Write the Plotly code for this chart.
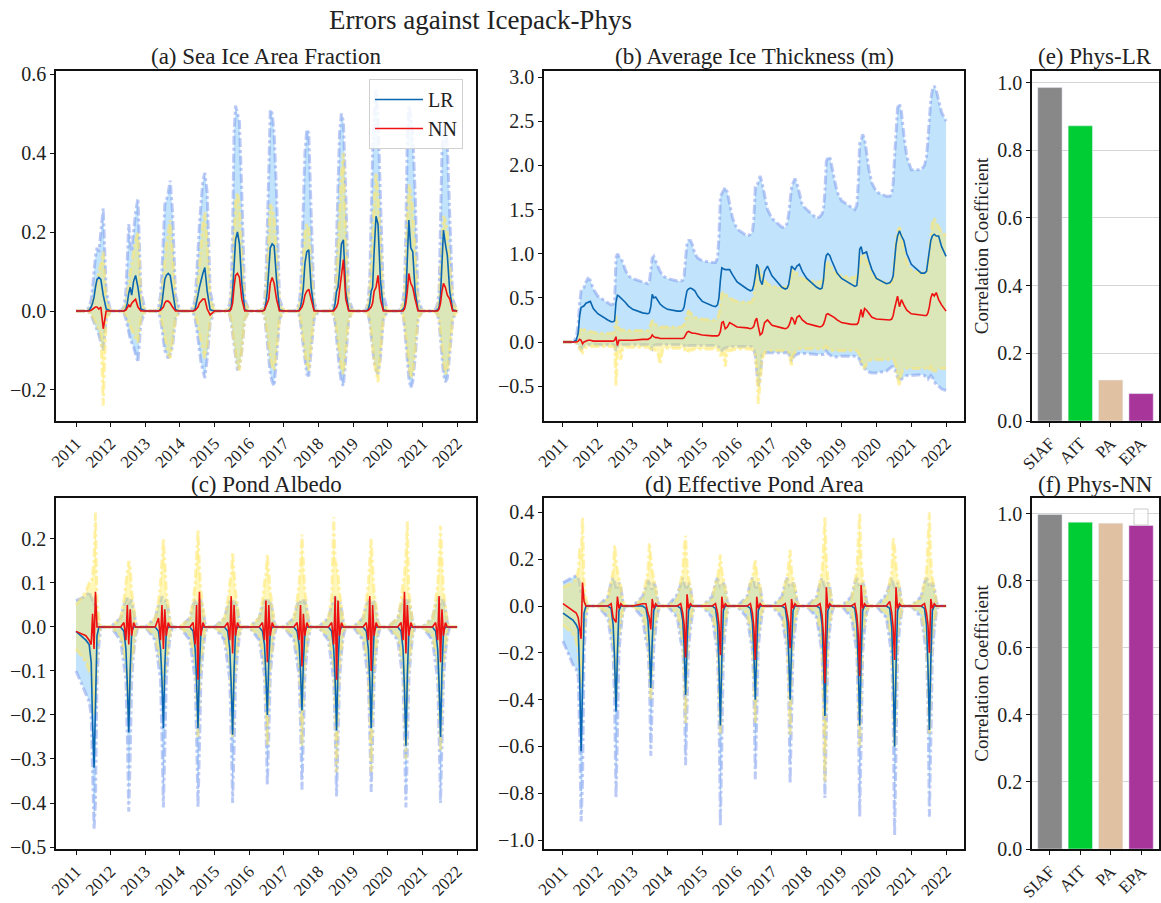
import plotly.graph_objects as go

W, H = 1161, 903
FONT = "Liberation Serif, DejaVu Serif, serif"

# ---------------- time grid ----------------
YEARS = list(range(2011, 2022))
SAMPLE_DAYS = ["01-01", "04-15", "05-20", "06-10", "06-25", "07-10",
               "07-25", "08-10", "08-30", "09-20", "10-15", "11-15"]
END_DATE = "2022-01-01"
DATES = [f"{y}-{d}" for y in YEARS for d in SAMPLE_DAYS] + [END_DATE]

# ---------------- (a) Sea Ice Area Fraction ----------------
A_LR = [
    [0, 0, 0.002, 0.01, 0.02, 0.035, 0.06, 0.08, 0.085, 0.08, 0.04, 0.005],
    [0, 0, 0, 0.005, 0.02, 0.045, 0.06, 0.04, 0.075, 0.09, 0.06, 0.005],
    [0, 0, 0, 0.005, 0.02, 0.05, 0.08, 0.09, 0.095, 0.09, 0.05, 0.003],
    [0, 0, 0, 0.005, 0.02, 0.04, 0.06, 0.08, 0.095, 0.11, 0.05, 0.003],
    [0, 0, 0, 0.003, 0.01, 0.05, 0.12, 0.18, 0.20, 0.17, 0.07, 0.003],
    [0, 0, 0, 0.003, 0.02, 0.05, 0.10, 0.16, 0.17, 0.165, 0.08, 0.003],
    [0, 0, 0, 0.002, 0.01, 0.03, 0.06, 0.12, 0.15, 0.155, 0.06, 0.002],
    [0, 0, 0, 0.003, 0.02, 0.05, 0.06, 0.10, 0.17, 0.18, 0.05, 0.002],
    [0, 0, 0, 0.005, 0.02, 0.05, 0.06, 0.15, 0.24, 0.22, 0.08, 0.003],
    [0, 0, 0, 0.005, 0.01, 0.04, 0.12, 0.23, 0.16, 0.15, 0.05, 0.002],
    [0, 0, 0, 0.003, 0.01, 0.04, 0.12, 0.205, 0.17, 0.14, 0.05, 0.003],
]
A_LR_END = 0
A_NN = [
    [0, 0, 0, 0.002, 0.005, 0.008, 0.01, 0.01, 0.005, 0.01, -0.045, 0],
    [0, 0, 0, 0.002, 0.01, 0.015, 0.01, 0.02, 0.025, 0.03, 0.01, 0],
    [0, 0, 0, 0.002, 0.005, 0.01, 0.02, 0.025, 0.025, 0.02, 0.01, 0],
    [0, 0, 0, 0.002, 0.005, 0.01, 0.02, 0.025, 0.03, 0.03, 0.005, -0.01],
    [0, 0, 0, 0, 0.005, 0.02, 0.06, 0.09, 0.095, 0.085, 0.03, 0],
    [0, 0, 0, 0.002, 0.01, 0.02, 0.03, 0.07, 0.085, 0.07, 0.03, 0],
    [0, 0, 0, 0, 0.005, 0.01, 0.02, 0.04, 0.05, 0.055, 0.03, 0],
    [0, 0, 0, 0, 0.005, 0.01, 0.02, 0.05, 0.09, 0.13, 0.03, 0],
    [0, 0, 0, 0.002, 0.005, 0.01, 0.02, 0.05, 0.06, 0.09, 0.03, 0],
    [0, 0, 0, 0, 0.005, 0.02, 0.05, 0.095, 0.07, 0.06, 0.03, 0],
    [0, 0, 0, 0, 0.005, 0.02, 0.05, 0.07, 0.06, 0.04, 0.03, 0],
]
A_NN_END = 0
A_LR_HI = [
    [0, 0, 0.01, 0.03, 0.06, 0.10, 0.14, 0.16, 0.15, 0.20, 0.26, 0.05],
    [0, 0, 0.01, 0.05, 0.12, 0.22, 0.18, 0.15, 0.20, 0.25, 0.285, 0.05],
    [0, 0, 0.01, 0.04, 0.10, 0.20, 0.27, 0.28, 0.30, 0.33, 0.25, 0.04],
    [0, 0, 0.01, 0.03, 0.08, 0.15, 0.22, 0.28, 0.33, 0.35, 0.30, 0.05],
    [0, 0, 0.005, 0.02, 0.06, 0.20, 0.45, 0.52, 0.50, 0.48, 0.30, 0.03],
    [0, 0, 0.005, 0.02, 0.08, 0.25, 0.35, 0.51, 0.50, 0.45, 0.30, 0.03],
    [0, 0, 0.005, 0.02, 0.05, 0.15, 0.30, 0.40, 0.46, 0.45, 0.25, 0.02],
    [0, 0, 0.005, 0.02, 0.05, 0.20, 0.30, 0.45, 0.50, 0.48, 0.30, 0.03],
    [0, 0, 0.005, 0.03, 0.08, 0.25, 0.40, 0.50, 0.56, 0.50, 0.30, 0.04],
    [0, 0, 0.005, 0.03, 0.06, 0.20, 0.45, 0.52, 0.50, 0.45, 0.30, 0.03],
    [0, 0, 0.005, 0.02, 0.05, 0.20, 0.40, 0.47, 0.46, 0.42, 0.25, 0.03],
]
A_LR_HI_END = 0
A_LR_LO = [
    [0, 0, -0.003, -0.01, -0.02, -0.03, -0.04, -0.05, -0.06, -0.08, -0.10, -0.02],
    [0, 0, -0.005, -0.02, -0.04, -0.06, -0.07, -0.08, -0.09, -0.11, -0.13, -0.03],
    [0, 0, -0.005, -0.02, -0.05, -0.08, -0.10, -0.11, -0.12, -0.11, -0.09, -0.02],
    [0, 0, -0.005, -0.02, -0.04, -0.07, -0.10, -0.13, -0.15, -0.17, -0.12, -0.03],
    [0, 0, -0.003, -0.01, -0.03, -0.06, -0.09, -0.12, -0.15, -0.14, -0.10, -0.02],
    [0, 0, -0.003, -0.01, -0.04, -0.08, -0.12, -0.16, -0.18, -0.19, -0.12, -0.02],
    [0, 0, -0.003, -0.01, -0.03, -0.06, -0.09, -0.13, -0.16, -0.165, -0.10, -0.02],
    [0, 0, -0.003, -0.01, -0.03, -0.07, -0.11, -0.15, -0.18, -0.19, -0.12, -0.02],
    [0, 0, -0.003, -0.01, -0.03, -0.06, -0.10, -0.13, -0.15, -0.16, -0.12, -0.02],
    [0, 0, -0.003, -0.01, -0.04, -0.08, -0.13, -0.17, -0.195, -0.18, -0.12, -0.02],
    [0, 0, -0.003, -0.01, -0.03, -0.07, -0.12, -0.16, -0.18, -0.17, -0.11, -0.02],
]
A_LR_LO_END = 0
A_NN_HI = [
    [0, 0, 0.005, 0.01, 0.02, 0.04, 0.06, 0.08, 0.10, 0.12, 0.15, 0.03],
    [0, 0, 0.005, 0.02, 0.05, 0.08, 0.10, 0.12, 0.15, 0.18, 0.20, 0.03],
    [0, 0, 0.005, 0.02, 0.05, 0.09, 0.13, 0.17, 0.20, 0.23, 0.15, 0.02],
    [0, 0, 0.005, 0.02, 0.04, 0.08, 0.12, 0.17, 0.22, 0.25, 0.18, 0.03],
    [0, 0, 0.003, 0.01, 0.04, 0.10, 0.20, 0.28, 0.30, 0.27, 0.15, 0.02],
    [0, 0, 0.003, 0.01, 0.05, 0.12, 0.20, 0.27, 0.26, 0.24, 0.15, 0.02],
    [0, 0, 0.003, 0.01, 0.03, 0.08, 0.14, 0.20, 0.22, 0.21, 0.12, 0.01],
    [0, 0, 0.003, 0.01, 0.03, 0.10, 0.18, 0.28, 0.35, 0.40, 0.18, 0.02],
    [0, 0, 0.003, 0.02, 0.05, 0.12, 0.20, 0.28, 0.35, 0.30, 0.18, 0.02],
    [0, 0, 0.003, 0.02, 0.04, 0.12, 0.25, 0.32, 0.30, 0.26, 0.15, 0.02],
    [0, 0, 0.003, 0.01, 0.03, 0.10, 0.18, 0.24, 0.23, 0.20, 0.12, 0.02],
]
A_NN_HI_END = 0
A_NN_LO = [
    [0, 0, -0.003, -0.01, -0.015, -0.02, -0.03, -0.04, -0.05, -0.06, -0.24, -0.02],
    [0, 0, -0.003, -0.01, -0.02, -0.03, -0.04, -0.05, -0.06, -0.07, -0.08, -0.02],
    [0, 0, -0.003, -0.01, -0.03, -0.05, -0.07, -0.09, -0.11, -0.12, -0.08, -0.02],
    [0, 0, -0.003, -0.01, -0.02, -0.04, -0.06, -0.08, -0.10, -0.12, -0.09, -0.02],
    [0, 0, -0.003, -0.01, -0.02, -0.05, -0.08, -0.11, -0.14, -0.15, -0.10, -0.02],
    [0, 0, -0.003, -0.01, -0.03, -0.06, -0.09, -0.12, -0.14, -0.15, -0.10, -0.02],
    [0, 0, -0.003, -0.01, -0.02, -0.05, -0.08, -0.11, -0.14, -0.15, -0.09, -0.01],
    [0, 0, -0.003, -0.01, -0.02, -0.05, -0.09, -0.12, -0.15, -0.16, -0.10, -0.02],
    [0, 0, -0.003, -0.01, -0.02, -0.05, -0.09, -0.13, -0.16, -0.18, -0.11, -0.02],
    [0, 0, -0.003, -0.01, -0.03, -0.06, -0.10, -0.14, -0.17, -0.16, -0.10, -0.02],
    [0, 0, -0.003, -0.01, -0.02, -0.05, -0.09, -0.13, -0.16, -0.15, -0.10, -0.02],
]
A_NN_LO_END = 0

# ---------------- (b) Average Ice Thickness ----------------
B_LR = [
    [0, 0.0, 0.02, 0.10, 0.30, 0.39, 0.40, 0.41, 0.44, 0.45, 0.46, 0.38],
    [0.32, 0.25, 0.23, 0.23, 0.24, 0.45, 0.53, 0.52, 0.50, 0.48, 0.45, 0.41],
    [0.37, 0.33, 0.32, 0.32, 0.33, 0.40, 0.54, 0.50, 0.51, 0.47, 0.43, 0.40],
    [0.37, 0.35, 0.35, 0.36, 0.40, 0.50, 0.58, 0.60, 0.61, 0.60, 0.58, 0.52],
    [0.46, 0.41, 0.40, 0.42, 0.50, 0.70, 0.84, 0.83, 0.82, 0.82, 0.82, 0.76],
    [0.68, 0.60, 0.58, 0.59, 0.65, 0.75, 0.88, 0.85, 0.70, 0.65, 0.80, 0.86],
    [0.75, 0.62, 0.60, 0.61, 0.65, 0.75, 0.86, 0.84, 0.82, 0.86, 0.88, 0.80],
    [0.72, 0.62, 0.60, 0.61, 0.70, 0.90, 0.98, 1.00, 0.98, 0.92, 0.85, 0.78],
    [0.72, 0.65, 0.63, 0.64, 0.80, 1.05, 1.08, 1.00, 1.01, 1.02, 0.92, 0.82],
    [0.72, 0.66, 0.67, 0.70, 0.75, 0.95, 1.10, 1.20, 1.26, 1.20, 1.15, 1.00],
    [0.88, 0.78, 0.78, 0.80, 0.90, 1.05, 1.15, 1.20, 1.22, 1.20, 1.20, 1.08],
]
B_LR_END = 0.97
B_NN = [
    [0, 0, 0.0, 0.01, 0.03, 0.02, -0.02, 0.0, 0.01, 0.02, 0.02, 0.01],
    [0.01, 0.01, 0.01, 0.01, 0.02, 0.06, -0.04, 0.02, 0.02, 0.02, 0.02, 0.02],
    [0.02, 0.03, 0.03, 0.03, 0.04, 0.05, 0.08, 0.06, 0.05, 0.05, 0.04, 0.04],
    [0.04, 0.04, 0.04, 0.04, 0.05, 0.08, 0.11, 0.12, 0.11, 0.10, 0.10, 0.09],
    [0.08, 0.07, 0.07, 0.07, 0.08, 0.12, 0.22, 0.23, 0.15, 0.17, 0.22, 0.20],
    [0.17, 0.16, 0.15, 0.16, 0.18, 0.24, 0.27, 0.18, 0.08, 0.10, 0.22, 0.25],
    [0.19, 0.16, 0.15, 0.16, 0.18, 0.22, 0.28, 0.26, 0.20, 0.28, 0.30, 0.25],
    [0.21, 0.18, 0.17, 0.18, 0.20, 0.25, 0.31, 0.32, 0.31, 0.30, 0.28, 0.25],
    [0.22, 0.20, 0.20, 0.20, 0.22, 0.30, 0.37, 0.28, 0.38, 0.36, 0.32, 0.28],
    [0.26, 0.25, 0.25, 0.26, 0.30, 0.38, 0.45, 0.52, 0.40, 0.48, 0.42, 0.36],
    [0.32, 0.30, 0.30, 0.30, 0.33, 0.40, 0.50, 0.55, 0.52, 0.56, 0.48, 0.42],
]
B_NN_END = 0.35
B_LR_HI = [
    [0, 0.0, 0.05, 0.20, 0.45, 0.58, 0.60, 0.62, 0.68, 0.72, 0.70, 0.60],
    [0.52, 0.45, 0.42, 0.43, 0.45, 0.95, 1.00, 0.97, 0.95, 0.90, 0.82, 0.75],
    [0.72, 0.68, 0.67, 0.66, 0.68, 0.80, 0.95, 0.97, 0.92, 0.85, 0.80, 0.75],
    [0.72, 0.69, 0.69, 0.70, 0.75, 0.95, 1.12, 1.15, 1.15, 1.10, 1.00, 0.95],
    [0.92, 0.90, 0.90, 0.95, 1.20, 1.65, 1.68, 1.72, 1.75, 1.70, 1.55, 1.40],
    [1.28, 1.20, 1.22, 1.25, 1.40, 1.75, 1.76, 1.82, 1.88, 1.80, 1.65, 1.50],
    [1.40, 1.30, 1.30, 1.35, 1.45, 1.60, 1.75, 1.80, 1.85, 1.80, 1.70, 1.55],
    [1.50, 1.40, 1.42, 1.45, 1.50, 1.70, 2.05, 2.08, 2.10, 2.00, 1.85, 1.70],
    [1.60, 1.52, 1.50, 1.55, 1.80, 2.25, 2.28, 2.35, 2.30, 2.15, 1.95, 1.80],
    [1.70, 1.65, 1.65, 1.68, 1.80, 2.10, 2.40, 2.65, 2.70, 2.60, 2.35, 2.10],
    [1.95, 1.95, 2.00, 2.10, 2.30, 2.55, 2.75, 2.85, 2.90, 2.85, 2.75, 2.60],
]
B_LR_HI_END = 2.5
B_LR_LO = [
    [0, 0, -0.01, -0.03, -0.06, -0.08, -0.05, -0.04, -0.03, -0.03, -0.03, -0.03],
    [-0.03, -0.03, -0.03, -0.03, -0.04, -0.10, -0.06, -0.03, -0.03, -0.03, -0.03, -0.03],
    [-0.03, -0.03, -0.03, -0.03, -0.04, -0.06, -0.08, -0.04, -0.03, -0.03, -0.03, -0.03],
    [-0.03, -0.03, -0.03, -0.03, -0.04, -0.05, -0.06, -0.04, -0.04, -0.04, -0.04, -0.04],
    [-0.04, -0.04, -0.04, -0.05, -0.06, -0.10, -0.10, -0.08, -0.07, -0.06, -0.06, -0.05],
    [-0.05, -0.05, -0.05, -0.06, -0.08, -0.15, -0.30, -0.50, -0.40, -0.15, -0.12, -0.12],
    [-0.12, -0.12, -0.12, -0.12, -0.13, -0.18, -0.22, -0.18, -0.15, -0.14, -0.13, -0.13],
    [-0.13, -0.14, -0.14, -0.14, -0.14, -0.12, -0.10, -0.13, -0.15, -0.16, -0.17, -0.17],
    [-0.16, -0.16, -0.16, -0.16, -0.18, -0.20, -0.25, -0.28, -0.30, -0.32, -0.34, -0.35],
    [-0.35, -0.33, -0.30, -0.28, -0.28, -0.30, -0.35, -0.40, -0.42, -0.42, -0.40, -0.38],
    [-0.38, -0.37, -0.38, -0.40, -0.42, -0.40, -0.38, -0.40, -0.45, -0.48, -0.50, -0.53],
]
B_LR_LO_END = -0.55
B_NN_HI = [
    [0, 0, 0.01, 0.05, 0.12, 0.16, 0.15, 0.14, 0.13, 0.12, 0.12, 0.11],
    [0.10, 0.10, 0.10, 0.10, 0.12, 0.30, 0.20, 0.15, 0.14, 0.14, 0.13, 0.13],
    [0.13, 0.13, 0.13, 0.13, 0.15, 0.20, 0.25, 0.22, 0.20, 0.18, 0.17, 0.17],
    [0.17, 0.17, 0.17, 0.18, 0.20, 0.25, 0.32, 0.35, 0.33, 0.30, 0.28, 0.27],
    [0.26, 0.25, 0.25, 0.27, 0.32, 0.45, 0.55, 0.56, 0.55, 0.52, 0.50, 0.48],
    [0.46, 0.45, 0.45, 0.47, 0.52, 0.70, 0.82, 0.85, 0.80, 0.75, 0.70, 0.66],
    [0.63, 0.62, 0.62, 0.63, 0.66, 0.72, 0.80, 0.82, 0.80, 0.78, 0.74, 0.72],
    [0.70, 0.68, 0.68, 0.69, 0.72, 0.80, 0.88, 0.90, 0.88, 0.84, 0.80, 0.77],
    [0.75, 0.73, 0.73, 0.75, 0.80, 0.90, 0.98, 1.00, 0.98, 0.92, 0.85, 0.78],
    [0.72, 0.68, 0.66, 0.68, 0.75, 0.95, 1.15, 1.25, 1.30, 1.20, 1.05, 0.90],
    [0.82, 0.78, 0.78, 0.80, 0.90, 1.05, 1.25, 1.35, 1.40, 1.35, 1.30, 1.25],
]
B_NN_HI_END = 1.2
B_NN_LO = [
    [0, 0, -0.01, -0.03, -0.08, -0.10, -0.12, -0.08, -0.06, -0.05, -0.05, -0.05],
    [-0.05, -0.05, -0.05, -0.05, -0.06, -0.50, -0.15, -0.08, -0.20, -0.08, -0.06, -0.06],
    [-0.06, -0.06, -0.06, -0.06, -0.07, -0.08, -0.10, -0.08, -0.10, -0.12, -0.25, -0.07],
    [-0.07, -0.07, -0.07, -0.07, -0.08, -0.10, -0.12, -0.10, -0.09, -0.09, -0.08, -0.08],
    [-0.08, -0.08, -0.08, -0.09, -0.10, -0.15, -0.15, -0.12, -0.28, -0.10, -0.10, -0.09],
    [-0.08, -0.08, -0.08, -0.09, -0.10, -0.15, -0.30, -0.70, -0.45, -0.20, -0.12, -0.10],
    [-0.10, -0.10, -0.10, -0.10, -0.12, -0.18, -0.28, -0.15, -0.12, -0.10, -0.08, -0.08],
    [-0.08, -0.08, -0.08, -0.08, -0.08, -0.06, -0.05, -0.08, -0.10, -0.10, -0.10, -0.10],
    [-0.10, -0.10, -0.10, -0.10, -0.12, -0.15, -0.22, -0.25, -0.30, -0.25, -0.22, -0.20],
    [-0.20, -0.20, -0.20, -0.20, -0.20, -0.22, -0.28, -0.40, -0.50, -0.35, -0.30, -0.30],
    [-0.30, -0.30, -0.30, -0.30, -0.32, -0.30, -0.28, -0.32, -0.35, -0.32, -0.30, -0.30],
]
B_NN_LO_END = -0.3

# ---------------- (c) Pond Albedo ----------------
C_LR = [
    [-0.01, -0.03, -0.04, -0.08, -0.22, -0.32, -0.18, -0.02, 0, 0, 0, 0],
    [0, 0, -0.01, -0.05, -0.13, -0.24, -0.10, -0.01, 0, 0, 0, 0],
    [0, 0, -0.01, -0.05, -0.12, -0.23, -0.09, -0.01, 0, 0, 0, 0],
    [0, 0, -0.01, -0.05, -0.12, -0.23, -0.09, -0.01, 0, 0, 0, 0],
    [0, 0, -0.01, -0.05, -0.13, -0.245, -0.10, -0.01, 0, 0, 0, 0],
    [0, 0, -0.01, -0.04, -0.11, -0.20, -0.08, -0.01, 0, 0, 0, 0],
    [0, 0, -0.01, -0.04, -0.10, -0.19, -0.08, -0.01, 0, 0, 0, 0],
    [0, 0, -0.01, -0.05, -0.12, -0.235, -0.09, -0.01, 0, 0, 0, 0],
    [0, 0, -0.01, -0.05, -0.12, -0.23, -0.09, -0.01, 0, 0, 0, 0],
    [0, 0, -0.01, -0.05, -0.14, -0.27, -0.11, -0.01, 0, 0, 0, 0],
    [0, 0, -0.01, -0.05, -0.13, -0.25, -0.10, -0.01, 0, 0, 0, 0],
]
C_LR_END = 0
C_NN = [
    [-0.01, -0.02, -0.03, -0.04, 0.03, -0.05, 0.08, 0.0, 0, 0, 0, 0],
    [0, 0, 0.01, -0.03, 0.05, -0.04, 0.04, -0.02, 0.01, 0, 0, 0],
    [0, 0, 0.02, -0.03, 0.05, -0.05, 0.04, -0.02, 0.01, 0, 0, 0],
    [0, 0, 0.01, -0.04, 0.05, -0.12, 0.08, -0.02, 0.01, 0, 0, 0],
    [0, 0, 0.01, -0.03, 0.07, -0.06, 0.05, -0.02, 0.01, 0, 0, 0],
    [0, 0, 0.01, -0.03, 0.06, -0.08, 0.05, -0.02, 0.01, 0, 0, 0],
    [0, 0, 0.01, -0.03, 0.05, -0.09, 0.03, -0.02, 0.01, 0, 0, 0],
    [0, 0, 0.01, -0.04, 0.07, -0.12, 0.06, -0.02, 0.01, 0, 0, 0],
    [0, 0, 0.01, -0.03, 0.07, -0.10, 0.05, -0.02, 0.01, 0, 0, 0],
    [0, 0, 0.01, -0.03, 0.08, -0.06, 0.05, -0.02, 0.01, 0, 0, 0],
    [0, 0, 0.01, -0.03, 0.07, -0.08, 0.04, -0.02, 0.01, 0, 0, 0],
]
C_NN_END = 0
C_LR_HI = [
    [0.06, 0.07, 0.08, 0.07, 0.06, 0.05, 0.07, 0.03, 0, 0, 0, 0],
    [0, 0.02, 0.05, 0.06, 0.07, 0.05, 0.06, 0.06, 0.04, 0.01, 0, 0],
    [0, 0.02, 0.05, 0.06, 0.07, 0.06, 0.06, 0.06, 0.04, 0.01, 0, 0],
    [0, 0.02, 0.05, 0.06, 0.06, 0.05, 0.06, 0.06, 0.04, 0.01, 0, 0],
    [0, 0.02, 0.05, 0.06, 0.06, 0.06, 0.05, 0.06, 0.04, 0.01, 0, 0],
    [0, 0.02, 0.05, 0.06, 0.06, 0.05, 0.06, 0.06, 0.04, 0.01, 0, 0],
    [0, 0.02, 0.05, 0.06, 0.06, 0.05, 0.06, 0.06, 0.04, 0.01, 0, 0],
    [0, 0.02, 0.05, 0.06, 0.07, 0.06, 0.06, 0.06, 0.04, 0.01, 0, 0],
    [0, 0.02, 0.05, 0.06, 0.06, 0.05, 0.06, 0.06, 0.04, 0.01, 0, 0],
    [0, 0.02, 0.05, 0.06, 0.06, 0.05, 0.06, 0.06, 0.04, 0.01, 0, 0],
    [0, 0.02, 0.05, 0.06, 0.07, 0.05, 0.06, 0.06, 0.04, 0.01, 0, 0],
]
C_LR_HI_END = 0
C_LR_LO = [
    [-0.10, -0.15, -0.17, -0.20, -0.35, -0.46, -0.40, -0.12, -0.04, 0, 0, 0],
    [0, -0.03, -0.08, -0.12, -0.25, -0.42, -0.30, -0.12, -0.06, -0.02, 0, 0],
    [0, -0.03, -0.08, -0.12, -0.25, -0.41, -0.28, -0.12, -0.06, -0.02, 0, 0],
    [0, -0.03, -0.08, -0.12, -0.25, -0.41, -0.28, -0.12, -0.06, -0.02, 0, 0],
    [0, -0.03, -0.08, -0.12, -0.25, -0.40, -0.28, -0.12, -0.06, -0.02, 0, 0],
    [0, -0.03, -0.08, -0.11, -0.22, -0.36, -0.25, -0.11, -0.06, -0.02, 0, 0],
    [0, -0.03, -0.08, -0.11, -0.22, -0.37, -0.25, -0.11, -0.06, -0.02, 0, 0],
    [0, -0.03, -0.08, -0.12, -0.24, -0.385, -0.26, -0.12, -0.06, -0.02, 0, 0],
    [0, -0.03, -0.08, -0.12, -0.24, -0.375, -0.26, -0.12, -0.06, -0.02, 0, 0],
    [0, -0.03, -0.08, -0.12, -0.26, -0.41, -0.28, -0.12, -0.06, -0.02, 0, 0],
    [0, -0.03, -0.08, -0.12, -0.25, -0.40, -0.27, -0.12, -0.06, -0.02, 0, 0],
]
C_LR_LO_END = 0
C_NN_HI = [
    [0.05, 0.08, 0.10, 0.10, 0.12, 0.15, 0.26, 0.06, 0.02, 0, 0, 0],
    [0, 0.02, 0.06, 0.10, 0.12, 0.15, 0.14, 0.08, 0.05, 0.01, 0, 0],
    [0, 0.02, 0.06, 0.10, 0.14, 0.20, 0.15, 0.08, 0.05, 0.01, 0, 0],
    [0, 0.02, 0.06, 0.10, 0.15, 0.22, 0.14, 0.08, 0.05, 0.01, 0, 0],
    [0, 0.02, 0.06, 0.10, 0.12, 0.17, 0.13, 0.08, 0.05, 0.01, 0, 0],
    [0, 0.02, 0.06, 0.10, 0.12, 0.165, 0.12, 0.08, 0.05, 0.01, 0, 0],
    [0, 0.02, 0.06, 0.10, 0.14, 0.21, 0.14, 0.08, 0.05, 0.01, 0, 0],
    [0, 0.02, 0.07, 0.25, 0.15, 0.14, 0.12, 0.08, 0.05, 0.01, 0, 0],
    [0, 0.02, 0.06, 0.10, 0.14, 0.20, 0.14, 0.08, 0.05, 0.01, 0, 0],
    [0, 0.02, 0.06, 0.10, 0.12, 0.16, 0.24, 0.08, 0.05, 0.01, 0, 0],
    [0, 0.02, 0.06, 0.10, 0.15, 0.23, 0.14, 0.08, 0.05, 0.01, 0, 0],
]
C_NN_HI_END = 0
C_NN_LO = [
    [-0.05, -0.08, -0.10, -0.10, -0.15, -0.20, -0.15, -0.07, -0.02, 0, 0, 0],
    [0, -0.02, -0.06, -0.08, -0.12, -0.20, -0.12, -0.08, -0.05, -0.01, 0, 0],
    [0, -0.02, -0.06, -0.08, -0.10, -0.15, -0.10, -0.07, -0.05, -0.01, 0, 0],
    [0, -0.02, -0.06, -0.08, -0.14, -0.25, -0.14, -0.08, -0.05, -0.01, 0, 0],
    [0, -0.02, -0.06, -0.08, -0.14, -0.25, -0.14, -0.08, -0.05, -0.01, 0, 0],
    [0, -0.02, -0.06, -0.08, -0.15, -0.27, -0.15, -0.08, -0.05, -0.01, 0, 0],
    [0, -0.02, -0.06, -0.08, -0.15, -0.27, -0.15, -0.08, -0.05, -0.01, 0, 0],
    [0, -0.02, -0.06, -0.09, -0.18, -0.33, -0.18, -0.09, -0.05, -0.01, 0, 0],
    [0, -0.02, -0.06, -0.09, -0.18, -0.33, -0.18, -0.09, -0.05, -0.01, 0, 0],
    [0, -0.02, -0.06, -0.09, -0.16, -0.30, -0.16, -0.09, -0.05, -0.01, 0, 0],
    [0, -0.02, -0.06, -0.08, -0.15, -0.28, -0.15, -0.08, -0.05, -0.01, 0, 0],
]
C_NN_LO_END = 0

# ---------------- (d) Effective Pond Area ----------------
D_LR = [
    [-0.03, -0.06, -0.08, -0.10, -0.30, -0.62, -0.35, -0.03, 0, 0, 0, 0],
    [0, 0, -0.01, -0.08, -0.22, -0.45, -0.20, -0.02, 0, 0, 0, 0],
    [0, 0, -0.01, -0.06, -0.17, -0.35, -0.15, -0.02, 0, 0, 0, 0],
    [0, 0, -0.01, -0.06, -0.18, -0.38, -0.16, -0.02, 0, 0, 0, 0],
    [0, 0, -0.01, -0.08, -0.25, -0.51, -0.22, -0.02, 0, 0, 0, 0],
    [0, 0, -0.01, -0.07, -0.20, -0.40, -0.18, -0.02, 0, 0, 0, 0],
    [0, 0, -0.01, -0.07, -0.20, -0.40, -0.18, -0.02, 0, 0, 0, 0],
    [0, 0, -0.01, -0.08, -0.23, -0.47, -0.20, -0.02, 0, 0, 0, 0],
    [0, 0, -0.01, -0.08, -0.25, -0.51, -0.22, -0.02, 0, 0, 0, 0],
    [0, 0, -0.01, -0.09, -0.30, -0.60, -0.26, -0.02, 0, 0, 0, 0],
    [0, 0, -0.01, -0.08, -0.26, -0.53, -0.23, -0.02, 0, 0, 0, 0],
]
D_LR_END = 0
D_NN = [
    [0.01, -0.02, -0.03, -0.05, -0.10, -0.14, 0.10, 0.02, 0, 0, 0, 0],
    [0, 0, 0.01, -0.05, -0.06, -0.07, 0.04, -0.01, 0.01, 0, 0, 0],
    [0, 0.01, 0.01, -0.03, -0.05, -0.10, 0.03, -0.01, 0.01, 0, 0, 0],
    [0, 0, 0.01, -0.03, -0.08, -0.22, 0.05, -0.01, 0.01, 0, 0, 0],
    [0, 0, 0.01, -0.03, -0.08, -0.21, 0.04, -0.01, 0.01, 0, 0, 0],
    [0, 0, 0.01, -0.03, -0.09, -0.23, 0.04, -0.01, 0.01, 0, 0, 0],
    [0, 0, 0.01, -0.03, -0.07, -0.18, 0.03, -0.01, 0.01, 0, 0, 0],
    [0, 0, 0.01, -0.04, -0.12, -0.33, 0.08, -0.01, 0.01, 0, 0, 0],
    [0, 0, 0.01, -0.04, -0.12, -0.30, 0.09, -0.01, 0.01, 0, 0, 0],
    [0, 0, 0.02, -0.03, -0.09, -0.23, 0.08, -0.01, 0.01, 0, 0, 0],
    [0, 0, 0.01, -0.03, -0.08, -0.20, 0.03, -0.01, 0.01, 0, 0, 0],
]
D_NN_END = 0
D_LR_HI = [
    [0.10, 0.12, 0.13, 0.12, 0.10, 0.05, 0.08, 0.04, 0.01, 0, 0, 0],
    [0, 0.04, 0.10, 0.12, 0.11, 0.08, 0.08, 0.10, 0.08, 0.02, 0, 0],
    [0, 0.04, 0.09, 0.11, 0.10, 0.08, 0.07, 0.10, 0.08, 0.02, 0, 0],
    [0, 0.05, 0.10, 0.12, 0.10, 0.08, 0.08, 0.10, 0.08, 0.02, 0, 0],
    [0, 0.04, 0.10, 0.12, 0.10, 0.08, 0.08, 0.10, 0.08, 0.02, 0, 0],
    [0, 0.04, 0.10, 0.12, 0.11, 0.08, 0.08, 0.10, 0.08, 0.02, 0, 0],
    [0, 0.04, 0.10, 0.12, 0.10, 0.08, 0.08, 0.10, 0.08, 0.02, 0, 0],
    [0, 0.04, 0.10, 0.12, 0.10, 0.08, 0.08, 0.10, 0.08, 0.02, 0, 0],
    [0, 0.04, 0.10, 0.12, 0.10, 0.08, 0.08, 0.10, 0.08, 0.02, 0, 0],
    [0, 0.05, 0.10, 0.12, 0.10, 0.08, 0.08, 0.10, 0.08, 0.02, 0, 0],
    [0, 0.04, 0.10, 0.12, 0.11, 0.08, 0.08, 0.10, 0.08, 0.02, 0, 0],
]
D_LR_HI_END = 0
D_LR_LO = [
    [-0.15, -0.25, -0.27, -0.30, -0.55, -0.92, -0.75, -0.20, -0.05, 0, 0, 0],
    [0, -0.05, -0.15, -0.20, -0.40, -0.82, -0.55, -0.20, -0.10, -0.03, 0, 0],
    [0, -0.05, -0.15, -0.18, -0.30, -0.64, -0.40, -0.18, -0.10, -0.03, 0, 0],
    [0, -0.05, -0.15, -0.18, -0.32, -0.68, -0.42, -0.18, -0.10, -0.03, 0, 0],
    [0, -0.05, -0.15, -0.20, -0.45, -0.94, -0.60, -0.20, -0.10, -0.03, 0, 0],
    [0, -0.05, -0.15, -0.19, -0.35, -0.74, -0.48, -0.18, -0.10, -0.03, 0, 0],
    [0, -0.05, -0.15, -0.19, -0.36, -0.76, -0.48, -0.18, -0.10, -0.03, 0, 0],
    [0, -0.05, -0.15, -0.20, -0.40, -0.82, -0.52, -0.19, -0.10, -0.03, 0, 0],
    [0, -0.05, -0.15, -0.20, -0.43, -0.90, -0.58, -0.20, -0.10, -0.03, 0, 0],
    [0, -0.05, -0.15, -0.21, -0.46, -0.98, -0.62, -0.20, -0.10, -0.03, 0, 0],
    [0, -0.05, -0.15, -0.20, -0.43, -0.90, -0.58, -0.20, -0.10, -0.03, 0, 0],
]
D_LR_LO_END = 0
D_NN_HI = [
    [0.08, 0.10, 0.12, 0.15, 0.25, 0.20, 0.38, 0.10, 0.03, 0, 0, 0],
    [0, 0.03, 0.10, 0.15, 0.26, 0.20, 0.15, 0.12, 0.08, 0.02, 0, 0],
    [0, 0.03, 0.10, 0.15, 0.27, 0.20, 0.15, 0.12, 0.08, 0.02, 0, 0],
    [0, 0.03, 0.10, 0.15, 0.25, 0.30, 0.18, 0.12, 0.08, 0.02, 0, 0],
    [0, 0.03, 0.10, 0.12, 0.18, 0.22, 0.15, 0.12, 0.08, 0.02, 0, 0],
    [0, 0.03, 0.10, 0.12, 0.17, 0.20, 0.14, 0.12, 0.08, 0.02, 0, 0],
    [0, 0.03, 0.10, 0.12, 0.20, 0.24, 0.15, 0.12, 0.08, 0.02, 0, 0],
    [0, 0.03, 0.10, 0.15, 0.25, 0.38, 0.20, 0.12, 0.08, 0.02, 0, 0],
    [0, 0.03, 0.10, 0.15, 0.28, 0.40, 0.20, 0.12, 0.08, 0.02, 0, 0],
    [0, 0.03, 0.10, 0.15, 0.29, 0.25, 0.18, 0.12, 0.08, 0.02, 0, 0],
    [0, 0.03, 0.10, 0.15, 0.28, 0.40, 0.20, 0.12, 0.08, 0.02, 0, 0],
]
D_NN_HI_END = 0
D_NN_LO = [
    [-0.08, -0.12, -0.15, -0.20, -0.28, -0.35, -0.20, -0.10, -0.03, 0, 0, 0],
    [0, -0.03, -0.10, -0.15, -0.22, -0.40, -0.22, -0.12, -0.07, -0.02, 0, 0],
    [0, -0.03, -0.10, -0.15, -0.22, -0.40, -0.20, -0.12, -0.07, -0.02, 0, 0],
    [0, -0.03, -0.10, -0.15, -0.28, -0.50, -0.25, -0.12, -0.07, -0.02, 0, 0],
    [0, -0.03, -0.10, -0.15, -0.30, -0.55, -0.28, -0.12, -0.07, -0.02, 0, 0],
    [0, -0.03, -0.10, -0.15, -0.28, -0.50, -0.25, -0.12, -0.07, -0.02, 0, 0],
    [0, -0.03, -0.10, -0.15, -0.30, -0.55, -0.28, -0.12, -0.07, -0.02, 0, 0],
    [0, -0.03, -0.10, -0.17, -0.40, -0.75, -0.38, -0.13, -0.07, -0.02, 0, 0],
    [0, -0.03, -0.10, -0.16, -0.33, -0.60, -0.30, -0.12, -0.07, -0.02, 0, 0],
    [0, -0.03, -0.10, -0.16, -0.33, -0.60, -0.30, -0.12, -0.07, -0.02, 0, 0],
    [0, -0.03, -0.10, -0.15, -0.30, -0.55, -0.28, -0.12, -0.07, -0.02, 0, 0],
]
D_NN_LO_END = 0

# ---------------- (e), (f) correlation bars ----------------
BAR_LABELS = ["SIAF", "AIT", "PA", "EPA"]
CORR_LR = [0.985, 0.872, 0.121, 0.081]
CORR_NN = [0.998, 0.975, 0.972, 0.965]
BAR_COLORS = ["#888888", "#00cc33", "#e0c2a2", "#a8359a"]


def flat(rows, last):
    out = []
    for r in rows:
        out.extend(r)
    out.append(last)
    return out


PANELS = [
    dict(ax="", lr=flat(A_LR, A_LR_END), nn=flat(A_NN, A_NN_END),
         lrhi=flat(A_LR_HI, A_LR_HI_END), lrlo=flat(A_LR_LO, A_LR_LO_END),
         nnhi=flat(A_NN_HI, A_NN_HI_END), nnlo=flat(A_NN_LO, A_NN_LO_END)),
    dict(ax="2", lr=flat(B_LR, B_LR_END), nn=flat(B_NN, B_NN_END),
         lrhi=flat(B_LR_HI, B_LR_HI_END), lrlo=flat(B_LR_LO, B_LR_LO_END),
         nnhi=flat(B_NN_HI, B_NN_HI_END), nnlo=flat(B_NN_LO, B_NN_LO_END)),
    dict(ax="4", lr=flat(C_LR, C_LR_END), nn=flat(C_NN, C_NN_END),
         lrhi=flat(C_LR_HI, C_LR_HI_END), lrlo=flat(C_LR_LO, C_LR_LO_END),
         nnhi=flat(C_NN_HI, C_NN_HI_END), nnlo=flat(C_NN_LO, C_NN_LO_END)),
    dict(ax="5", lr=flat(D_LR, D_LR_END), nn=flat(D_NN, D_NN_END),
         lrhi=flat(D_LR_HI, D_LR_HI_END), lrlo=flat(D_LR_LO, D_LR_LO_END),
         nnhi=flat(D_NN_HI, D_NN_HI_END), nnlo=flat(D_NN_LO, D_NN_LO_END)),
]

LR_FILL = "rgba(100,185,245,0.40)"
LR_EDGE = "rgba(110,140,235,0.45)"
NN_FILL = "rgba(255,236,90,0.42)"
NN_EDGE = "rgba(255,232,110,0.55)"
LR_COLOR = "#0a66b0"
NN_COLOR = "#ee1111"

fig = go.Figure()
for i, p in enumerate(PANELS):
    xa, ya = "x" + p["ax"], "y" + p["ax"]
    for hi, lo, fill, edge in [(p["lrhi"], p["lrlo"], LR_FILL, LR_EDGE),
                               (p["nnhi"], p["nnlo"], NN_FILL, NN_EDGE)]:
        fig.add_trace(go.Scatter(x=DATES + DATES[::-1], y=hi + lo[::-1],
                                 fill="toself", fillcolor=fill, mode="lines",
                                 line=dict(width=0), hoverinfo="skip",
                                 showlegend=False, xaxis=xa, yaxis=ya))
        for edge_y in (hi, lo):
            fig.add_trace(go.Scatter(x=DATES, y=edge_y, mode="lines",
                                     line=dict(color=edge, width=3, dash="dashdot"),
                                     hoverinfo="skip", showlegend=False,
                                     xaxis=xa, yaxis=ya))
    fig.add_trace(go.Scatter(x=DATES, y=p["lr"], mode="lines", name="LR",
                             line=dict(color=LR_COLOR, width=1.6),
                             showlegend=(i == 0), xaxis=xa, yaxis=ya))
    fig.add_trace(go.Scatter(x=DATES, y=p["nn"], mode="lines", name="NN",
                             line=dict(color=NN_COLOR, width=1.6),
                             showlegend=(i == 0), xaxis=xa, yaxis=ya))

fig.add_trace(go.Bar(x=BAR_LABELS, y=CORR_LR, marker_color=BAR_COLORS,
                     width=0.8, showlegend=False, xaxis="x3", yaxis="y3"))
fig.add_trace(go.Bar(x=BAR_LABELS, y=CORR_NN, marker_color=BAR_COLORS,
                     width=0.8, showlegend=False, xaxis="x6", yaxis="y6"))


def px_x(v):
    return v / W


def px_y(v):
    return 1 - v / H


YTICKFONT = dict(family=FONT, size=20, color="#222")
XTICKFONT = dict(family=FONT, size=17, color="#222")
frame = dict(showline=True, linecolor="#111", linewidth=1.6, mirror=True,
             ticks="outside", ticklen=4, tickwidth=1.2, tickcolor="#111",
             zeroline=False, automargin=False)

TOP = (px_y(421), px_y(71))
BOT = (px_y(849), px_y(498))
XA = (px_x(56), px_x(476))
XB = (px_x(544), px_x(964))
XE = (px_x(1032), px_x(1159))

date_axis = dict(type="date", dtick="M12", tick0="2011-01-01", tickformat="%Y",
                 tickangle=-45, showgrid=False, tickfont=XTICKFONT, **frame)
bar_x = dict(type="category", range=[-0.59, 3.59], tickangle=-45,
             showgrid=False, tickfont=XTICKFONT, **frame)
bar_y = dict(showgrid=True, gridcolor="#d4d4d4", gridwidth=1, dtick=0.2,
             tickformat=".1f", tickfont=YTICKFONT,
             title=dict(text="Correlation Coefficient",
                        font=dict(family=FONT, size=19, color="#222"), standoff=4),
             **frame)
ts_y = dict(tickformat=".1f", showgrid=False, tickfont=YTICKFONT, **frame)

fig.update_layout(
    width=W, height=H, margin=dict(l=0, r=0, t=0, b=0, autoexpand=False),
    paper_bgcolor="white", plot_bgcolor="white",
    font=dict(family=FONT, color="#222"),
    xaxis=dict(domain=XA, anchor="y", range=["2010-06-04", "2022-07-19"], **date_axis),
    yaxis=dict(domain=TOP, anchor="x", range=[-0.2785, 0.6076], dtick=0.2, **ts_y),
    xaxis2=dict(domain=XB, anchor="y2", range=["2010-06-16", "2022-07-08"], **date_axis),
    yaxis2=dict(domain=TOP, anchor="x2", range=[-0.894, 3.068], dtick=0.5, **ts_y),
    xaxis3=dict(domain=XE, anchor="y3", **bar_x),
    yaxis3=dict(domain=TOP, anchor="x3", range=[0, 1.034], **bar_y),
    xaxis4=dict(domain=XA, anchor="y4", range=["2010-06-04", "2022-07-19"], **date_axis),
    yaxis4=dict(domain=BOT, anchor="x4", range=[-0.5045, 0.293], dtick=0.1, **ts_y),
    xaxis5=dict(domain=XB, anchor="y5", range=["2010-06-16", "2022-07-08"], **date_axis),
    yaxis5=dict(domain=BOT, anchor="x5", range=[-1.038, 0.4615], dtick=0.2, **ts_y),
    xaxis6=dict(domain=XE, anchor="y6", **bar_x),
    yaxis6=dict(domain=BOT, anchor="x6", range=[0, 1.047], **bar_y),
    legend=dict(x=px_x(369), y=px_y(79), xanchor="left", yanchor="top",
                bgcolor="rgba(255,255,255,0.85)", bordercolor="#d0d0d0",
                borderwidth=1, font=dict(family=FONT, size=20, color="#222"),
                itemwidth=48, tracegroupgap=2),
    bargap=0.2,
)

annots = [
    ("Errors against Icepack-Phys", 480, 20, 27),
    ("(a) Sea Ice Area Fraction", 266, 56, 23),
    ("(b) Average Ice Thickness (m)", 754, 56, 23),
    ("(e) Phys-LR", 1095, 56, 23),
    ("(c) Pond Albedo", 266, 484, 23),
    ("(d) Effective Pond Area", 754, 484, 23),
    ("(f) Phys-NN", 1095, 484, 23),
]
for text, x, y, size in annots:
    fig.add_annotation(text=text, x=px_x(x), y=px_y(y), xref="paper", yref="paper",
                       showarrow=False, xanchor="center", yanchor="middle",
                       font=dict(family=FONT, size=size, color="#222"))

# empty legend box of panel (f)
fig.add_shape(type="rect", xref="paper", yref="paper",
              x0=px_x(1134), x1=px_x(1148), y0=px_y(525), y1=px_y(509),
              line=dict(color="#cccccc", width=1), fillcolor="rgba(255,255,255,0.8)")

fig.write_html("out.html")
